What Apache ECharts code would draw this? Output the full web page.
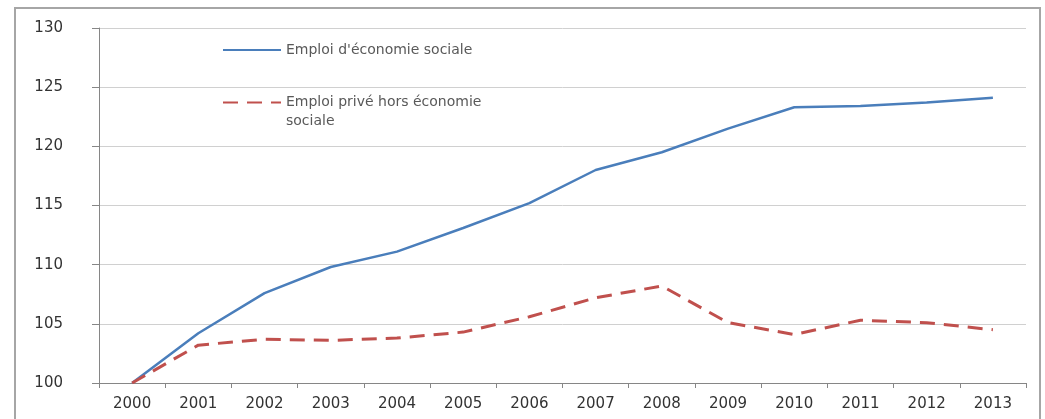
<!DOCTYPE html>
<html>
<head>
<meta charset="utf-8">
<script src="https://cdn.jsdelivr.net/npm/echarts@6/dist/echarts.min.js"></script>
<style>
html,body{margin:0;padding:0;background:#fff;}
#c{width:1045px;height:419px;}
</style>
</head>
<body>
<div id="c"></div>
<script>
var years = ['2000','2001','2002','2003','2004','2005','2006','2007','2008','2009','2010','2011','2012','2013'];
var economieSociale = [100, 104.2, 107.6, 109.8, 111.1, 113.1, 115.2, 118.0, 119.5, 121.5, 123.3, 123.4, 123.7, 124.1];
var priveHors = [100, 103.2, 103.7, 103.6, 103.8, 104.3, 105.6, 107.2, 108.2, 105.1, 104.1, 105.3, 105.1, 104.5];
var yTicks = [100, 105, 110, 115, 120, 125, 130];
var name1 = "Emploi d'économie sociale";
var name2 = "Emploi privé hors économie\nsociale";

var chart = echarts.init(document.getElementById('c'));
var font = 'DejaVu Sans';
chart.setOption({
  animation: false,
  backgroundColor: '#fff',
  graphic: [{
    type: 'rect', silent: true,
    shape: {x: 15, y: 8, width: 1025, height: 430},
    style: {fill: 'none', stroke: '#a6a6a6', lineWidth: 2}
  }],
  grid: {left: 99, right: 19, top: 28, bottom: 36},
  legend: [{
    data: [name1],
    left: 222, top: 43,
    orient: 'vertical',
    itemWidth: 58, itemHeight: 14,
    padding: 0,
    itemStyle: {opacity: 0},
    textStyle: {fontFamily: font, fontSize: 14, color: '#595959'}
  }, {
    data: [name2],
    left: 222, top: 74,
    orient: 'vertical',
    itemWidth: 58, itemHeight: 14,
    padding: 0,
    itemStyle: {opacity: 0},
    formatter: function (n) { return '\n' + n; },
    textStyle: {fontFamily: font, fontSize: 14, color: '#595959', lineHeight: 19}
  }],
  xAxis: {
    type: 'category',
    data: years,
    boundaryGap: true,
    axisLine: {lineStyle: {color: '#868686', width: 1}},
    axisTick: {show: true, length: 5, lineStyle: {color: '#868686'}},
    axisLabel: {fontFamily: font, fontSize: 15, color: '#333', margin: 14}
  },
  yAxis: {
    type: 'value',
    min: yTicks[0], max: yTicks[yTicks.length - 1], interval: 5,
    axisLine: {show: true, lineStyle: {color: '#868686', width: 1}},
    axisTick: {show: true, length: 7, lineStyle: {color: '#868686'}},
    splitLine: {lineStyle: {color: '#d0d0d0', width: 1}},
    axisLabel: {fontFamily: font, fontSize: 15, color: '#333', margin: 36}
  },
  series: [{
    name: name1,
    type: 'line',
    data: economieSociale,
    symbol: 'none',
    lineStyle: {color: '#4a7ebb', width: 2.5},
    itemStyle: {color: '#4a7ebb'}
  }, {
    name: name2,
    type: 'line',
    data: priveHors,
    symbol: 'none',
    lineStyle: {color: '#c0504d', width: 3, type: [15, 9]},
    itemStyle: {color: '#c0504d'}
  }]
});
</script>
</body>
</html>
